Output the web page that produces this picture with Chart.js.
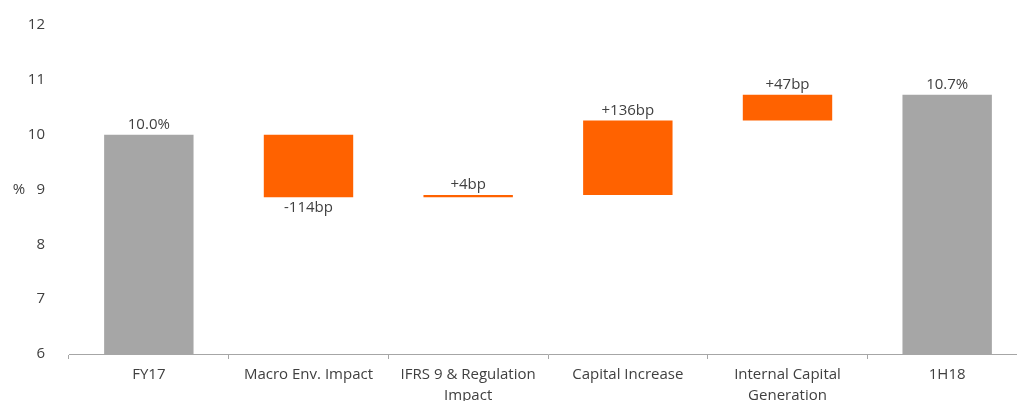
<!DOCTYPE html>
<html>
<head>
<meta charset="utf-8">
<script src="https://cdn.jsdelivr.net/npm/chart.js@4/dist/chart.umd.min.js"></script>
<style>
    html, body { margin: 0; padding: 0; background: #fff; overflow: hidden; }
    #wrap { position: relative; width: 1027px; height: 401px; }
</style>
</head>
<body>
<div id="wrap"><canvas id="waterfall"></canvas></div>
<script>
// Chart data
const categories = ['FY17', 'Macro Env. Impact', ['IFRS 9 & Regulation', 'Impact'], 'Capital Increase', ['Internal Capital', 'Generation'], '1H18'];
const barLow = [6, 8.86, 8.86, 8.90, 10.26, 6];
const barHigh = [10.0, 10.0, 8.90, 10.26, 10.73, 10.73];
const barLabels = ['10.0%', '-114bp', '+4bp', '+136bp', '+47bp', '10.7%'];
const isTotal = [true, false, false, false, false, true];
const isNegative = [false, true, false, false, false, false];
const yTicks = [6, 7, 8, 9, 10, 11, 12];

const GREY = '#a6a6a6';
const ORANGE = '#ff6200';
const TEXT = '#404040';
const FONT = "'Open Sans', sans-serif";

// Draw the bp / % labels over each bar, plus the "%" axis caption
const barLabelPlugin = {
    id: 'barLabels',
    afterDatasetsDraw(chart) {
        const ctx = chart.ctx;
        const meta = chart.getDatasetMeta(0);
        ctx.save();
        ctx.font = '15px ' + FONT;
        ctx.fillStyle = TEXT;
        ctx.textAlign = 'center';
        ctx.textBaseline = 'middle';
        meta.data.forEach((bar, i) => {
            const props = bar.getProps(['x', 'y', 'base'], true);
            const top = Math.min(props.y, props.base);
            const bottom = Math.max(props.y, props.base);
            if (isNegative[i]) {
                ctx.fillText(barLabels[i], props.x, bottom + 11);
            } else {
                ctx.fillText(barLabels[i], props.x, top - 10);
            }
        });
        const y = chart.scales.y;
        ctx.fillText('%', 19, y.getPixelForValue(9));
        ctx.restore();
    }
};

const ctx = document.getElementById('waterfall').getContext('2d');
new Chart(ctx, {
    type: 'bar',
    data: {
        labels: categories,
        datasets: [{
            data: barLow.map((low, i) => [low, barHigh[i]]),
            backgroundColor: isTotal.map(t => t ? GREY : ORANGE),
            borderWidth: 0,
            categoryPercentage: 1,
            barPercentage: 0.56
        }]
    },
    options: {
        responsive: true,
        maintainAspectRatio: false,
        animation: false,
        layout: { padding: { top: 21, right: 0, left: 0, bottom: 0 } },
        plugins: {
            legend: { display: false },
            tooltip: { enabled: false }
        },
        scales: {
            x: {
                grid: {
                    display: true,
                    offset: true,
                    drawOnChartArea: false,
                    drawTicks: true,
                    tickLength: 5,
                    color: '#a6a6a6'
                },
                border: { display: true, color: '#a6a6a6', width: 1 },
                ticks: {
                    color: TEXT,
                    font: { family: FONT, size: 15, lineHeight: 1.35 },
                    padding: 6,
                    maxRotation: 0,
                    autoSkip: false
                },
                afterFit(scale) { scale.height = 47; }
            },
            y: {
                min: 6,
                max: 12,
                grid: { display: false },
                border: { display: false },
                afterBuildTicks(scale) {
                    scale.ticks = yTicks.map(v => ({ value: v }));
                },
                ticks: {
                    color: TEXT,
                    font: { family: FONT, size: 15 },
                    padding: 16
                },
                afterFit(scale) { scale.width = 69; }
            }
        }
    },
    plugins: [barLabelPlugin]
});
</script>
</body>
</html>
